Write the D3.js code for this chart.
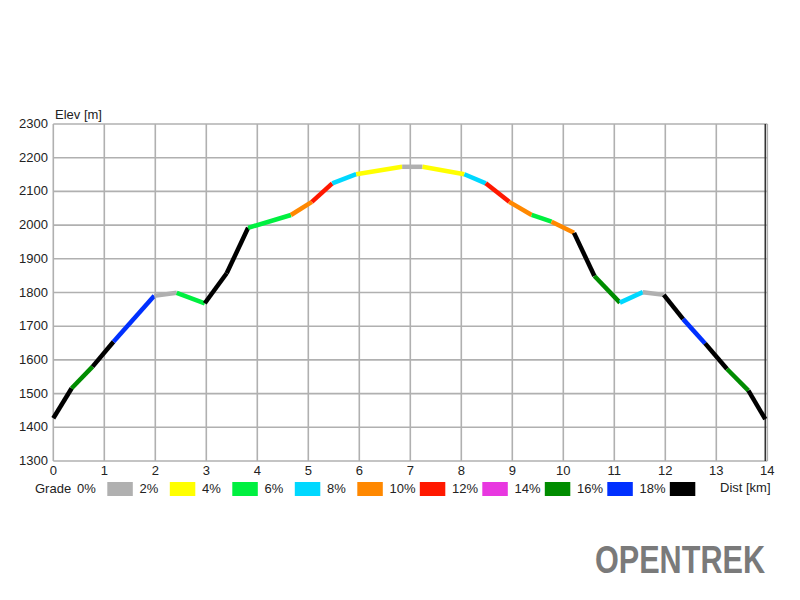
<!DOCTYPE html>
<html>
<head>
<meta charset="utf-8">
<script src="https://cdn.jsdelivr.net/npm/d3@7"></script>
<style>
  html, body { margin: 0; padding: 0; background: #fff; }
  svg { display: block; }
  text { font-family: "Liberation Sans", Arial, sans-serif; }
</style>
</head>
<body>
<svg id="chart" width="800" height="600"></svg>
<script>
// Profile points (distance km, elevation m)
const dist = [0, 0.36, 0.77, 1.18, 1.98, 2.42, 2.97, 3.40, 3.82, 4.66, 5.07, 5.47, 5.94, 6.84, 7.24, 8.06, 8.48, 8.94, 9.38, 9.77, 10.21, 10.61, 11.11, 11.56, 11.97, 12.35, 12.78, 13.21, 13.63, 13.96];
const elev = [1427, 1516, 1580, 1654, 1790, 1799, 1768, 1857, 1992, 2030, 2069, 2124, 2151, 2173, 2173, 2151, 2124, 2069, 2030, 2010, 1977, 1849, 1770, 1801, 1793, 1721, 1649, 1573, 1509, 1424];
// Grade band of each segment (index into gradeColors)
const segBand = [9, 7, 9, 8, 0, 2, 9, 9, 2, 4, 5, 3, 1, 0, 1, 3, 5, 4, 2, 4, 9, 7, 3, 0, 9, 8, 9, 7, 9];
// Legend
const gradeLabels = ["0%", "2%", "4%", "6%", "8%", "10%", "12%", "14%", "16%", "18%"];
const gradeColors = ["#b0b0b0", "#ffff00", "#00f040", "#00d8ff", "#ff8800", "#ff1800", "#e838e0", "#008c00", "#0030ff", "#000000"];
// Axis ticks
const xTicks = [0, 1, 2, 3, 4, 5, 6, 7, 8, 9, 10, 11, 12, 13, 14];
const yTicks = [1300, 1400, 1500, 1600, 1700, 1800, 1900, 2000, 2100, 2200, 2300];

const svg = d3.select("#chart");
const x = d3.scaleLinear().domain([0, 14]).range([53.3, 767.3]);
const y = d3.scaleLinear().domain([1300, 2300]).range([461, 124]);

// Grid
const grid = svg.append("g");
grid.selectAll("line.v").data(xTicks).enter().append("line")
  .attr("x1", d => x(d)).attr("x2", d => x(d))
  .attr("y1", y(2300)).attr("y2", y(1300))
  .attr("stroke", "#b0b0b0").attr("stroke-width", 1.6);
grid.selectAll("line.h").data(yTicks).enter().append("line")
  .attr("x1", x(0)).attr("x2", x(14))
  .attr("y1", d => y(d)).attr("y2", d => y(d))
  .attr("stroke", "#b0b0b0").attr("stroke-width", 1.6);

// Axis labels
svg.append("g").selectAll("text").data(yTicks).enter().append("text")
  .attr("x", 48).attr("y", d => y(d) + 4)
  .attr("text-anchor", "end").attr("font-size", 13).attr("fill", "#222")
  .text(d => d);
svg.append("g").selectAll("text").data(xTicks).enter().append("text")
  .attr("x", d => x(d)).attr("y", 475)
  .attr("text-anchor", "middle").attr("font-size", 13).attr("fill", "#222")
  .text(d => d);
svg.append("text").attr("x", 55).attr("y", 119).attr("font-size", 13).attr("fill", "#222").text("Elev [m]");
svg.append("text").attr("x", 720).attr("y", 492).attr("font-size", 13).attr("fill", "#222").text("Dist [km]");

// End-of-track line
svg.append("line")
  .attr("x1", x(dist[dist.length - 1])).attr("x2", x(dist[dist.length - 1]))
  .attr("y1", y(2300)).attr("y2", y(1300))
  .attr("stroke", "#333").attr("stroke-width", 1.5);

// Profile segments
const segs = segBand.map((b, i) => ({ i, b }));
svg.append("g").selectAll("line").data(segs).enter().append("line")
  .attr("x1", d => x(dist[d.i])).attr("y1", d => y(elev[d.i]))
  .attr("x2", d => x(dist[d.i + 1])).attr("y2", d => y(elev[d.i + 1]))
  .attr("stroke", d => gradeColors[d.b])
  .attr("stroke-width", 4.5)
  .attr("stroke-linecap", "butt");

// Legend
svg.append("text").attr("x", 35).attr("y", 493).attr("font-size", 13).attr("fill", "#222").text("Grade");
const lg = svg.append("g");
gradeLabels.forEach((lab, i) => {
  const sx = 107.3 + i * 62.5;
  lg.append("text").attr("x", sx - 30.3).attr("y", 493).attr("font-size", 13).attr("fill", "#222").text(lab);
  lg.append("rect").attr("x", sx).attr("y", 482).attr("width", 25.5).attr("height", 14)
    .attr("fill", gradeColors[i]);
});

// Logo: measure natural width, then scale horizontally to fit 595..765
const logoG = svg.append("g");
const logo = logoG.append("text")
  .attr("x", 0).attr("y", 0)
  .attr("font-family", "'Liberation Sans Narrow', 'DejaVu Sans Condensed', 'Liberation Sans', sans-serif")
  .attr("font-weight", "bold").attr("font-size", 39).attr("fill", "#7a7a7a")
  .text("OPENTREK");
const w = logo.node().getComputedTextLength() || 170;
logoG.attr("transform", `translate(595,573) scale(${170 / w},1)`);
</script>
</body>
</html>
